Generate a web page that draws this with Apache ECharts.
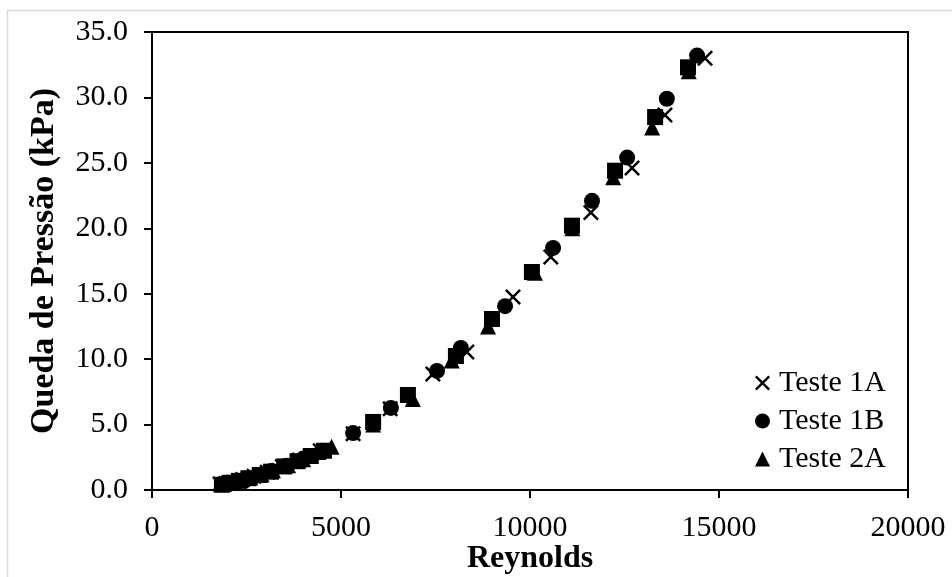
<!DOCTYPE html>
<html>
<head>
<meta charset="utf-8">
<script src="https://cdn.jsdelivr.net/npm/echarts@6/dist/echarts.min.js"></script>
<style>html,body{margin:0;padding:0;background:#fff}#c{width:952px;height:577px}</style>
</head>
<body>
<div id="c"></div>
<script>
// Teste 1A (x markers): [Reynolds, kPa]
const teste1A = [
  [1800,0.45],[1950,0.5],[2150,0.6],[2400,0.8],[2700,1.05],[3050,1.35],[3450,1.8],[3900,2.3],[4450,3.0],
  [5320,4.3],[6300,6.2],[7430,8.86],[8330,10.55],[9550,14.75],[10550,17.8],[11610,21.2],[12700,24.6],[13570,28.65],[14630,33.0]
];
// Teste 1B (circles)
const teste1B = [
  [1900,0.45],[2050,0.55],[2250,0.7],[2500,0.85],[2800,1.1],[3150,1.45],[3550,1.85],[4000,2.4],[4500,3.0],
  [5320,4.35],[6320,6.27],[7540,9.1],[8170,10.85],[9340,14.05],[10610,18.5],[11640,22.1],[12570,25.4],[13620,29.9],[14420,33.2]
];
// Teste 2A (triangles)
const teste2A = [
  [1900,0.45],[2100,0.6],[2350,0.75],[2600,0.95],[2900,1.2],[3200,1.5],[3600,1.9],[4000,2.35],[4400,2.9],[4750,3.3],
  [5850,5.0],[6900,6.95],[7930,9.9],[8890,12.5],[10130,16.6],[11120,20.0],[12200,23.9],[13230,27.7],[14200,32.0]
];
// Teste 2B (squares, not in legend)
const teste2B = [
  [1850,0.4],[2050,0.55],[2300,0.7],[2550,0.9],[2850,1.15],[3150,1.4],[3500,1.8],[3850,2.2],[4200,2.6],[4550,3.0],
  [5850,5.2],[6770,7.26],[8040,10.24],[8995,13.07],[10050,16.66],[11110,20.2],[12250,24.4],[13310,28.5],[14180,32.3]
];
const legendNames = ['Teste 1A','Teste 1B','Teste 2A'];

const FONT = 'Liberation Serif';
const crossPath = 'path://M0,1.1 L1.1,0 L10,8.9 L8.9,10 Z M8.9,0 L10,1.1 L1.1,10 L0,8.9 Z';
const solid = {color: '#000', opacity: 1};

const chart = echarts.init(document.getElementById('c'));
chart.setOption({
  backgroundColor: '#fff',
  animation: false,
  textStyle: {fontFamily: FONT},
  graphic: [{
    type: 'rect', silent: true,
    shape: {x: 7.5, y: 10.5, width: 960, height: 600},
    style: {fill: 'none', stroke: '#d9d9d9', lineWidth: 1.5}
  }],
  grid: {left: 152, right: 44, top: 32, bottom: 87, containLabel: false, outerBoundsMode: 'none',
         show: true, borderColor: '#000', borderWidth: 2, backgroundColor: 'transparent'},
  legend: {
    data: legendNames,
    orient: 'vertical',
    left: 750, top: 363,
    itemWidth: 15, itemHeight: 15, itemGap: 8,
    itemStyle: {opacity: 1},
    textStyle: {fontFamily: FONT, fontSize: 30, color: '#000', lineHeight: 30, padding: [0,0,0,4]}
  },
  xAxis: {
    type: 'value', min: 0, max: 20000, interval: 5000,
    name: 'Reynolds', nameLocation: 'middle', nameGap: 53, nameMoveOverlap: false,
    nameTextStyle: {fontFamily: FONT, fontSize: 32, fontWeight: 'bold', color: '#000', verticalAlign: 'top'},
    axisLine: {show: true, onZero: false, lineStyle: {color: '#000', width: 2}},
    axisTick: {show: true, inside: false, length: 8, lineStyle: {color: '#000', width: 2}},
    axisLabel: {fontFamily: FONT, fontSize: 30, color: '#000', margin: 23, formatter: v => String(v)},
    splitLine: {show: false}
  },
  yAxis: {
    type: 'value', min: 0, max: 35, interval: 5,
    name: 'Queda de Pressão (kPa)', nameLocation: 'middle', nameGap: 91, nameMoveOverlap: false,
    nameTextStyle: {fontFamily: FONT, fontSize: 34, fontWeight: 'bold', color: '#000'},
    axisLine: {show: true, lineStyle: {color: '#000', width: 2}},
    axisTick: {show: true, inside: false, length: 8, lineStyle: {color: '#000', width: 2}},
    axisLabel: {fontFamily: FONT, fontSize: 30, color: '#000', margin: 24, formatter: v => v.toFixed(1)},
    splitLine: {show: false}
  },
  series: [
    {name: 'Teste 1A', type: 'scatter', data: teste1A, symbol: crossPath, symbolSize: 16, itemStyle: solid},
    {name: 'Teste 1B', type: 'scatter', data: teste1B, symbol: 'circle', symbolSize: 16, itemStyle: solid},
    {name: 'Teste 2A', type: 'scatter', data: teste2A, symbol: 'triangle', symbolSize: 16, itemStyle: solid},
    {name: 'Teste 2B', type: 'scatter', data: teste2B, symbol: 'rect', symbolSize: 16, itemStyle: solid}
  ]
});
</script>
</body>
</html>
